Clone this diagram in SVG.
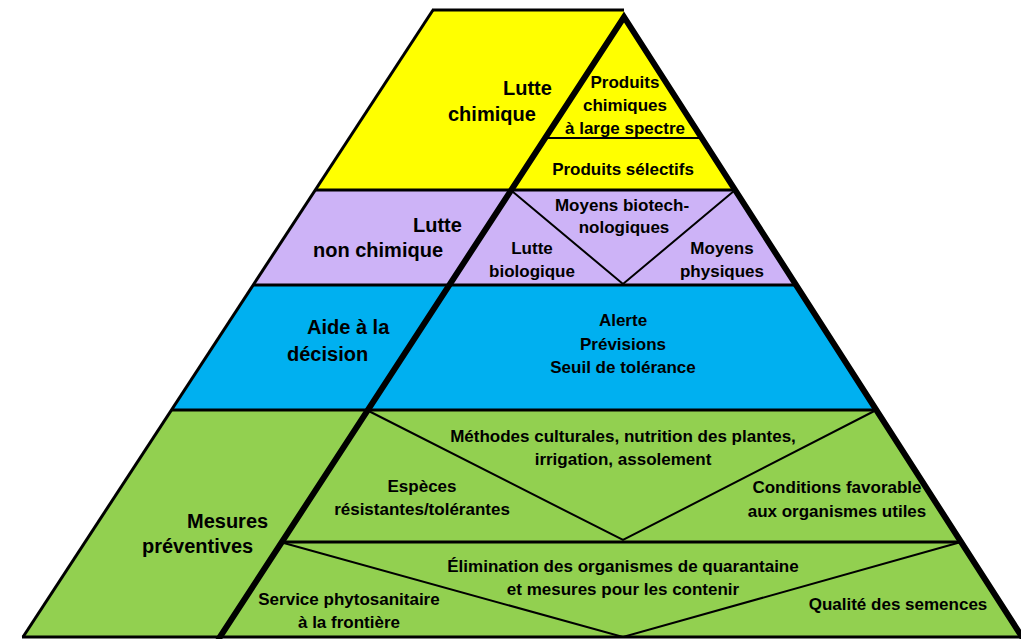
<svg xmlns="http://www.w3.org/2000/svg" width="1021" height="639" viewBox="0 0 1021 639">
<style>
.t{font-family:"Liberation Sans",Arial,sans-serif;font-weight:bold;fill:#000;}
.big{font-size:20px;}
.sm{font-size:17px;text-anchor:middle;}
.ln{stroke:#000;fill:none;stroke-width:2;}
.bd{stroke:#000;fill:none;stroke-width:3;}
.thick{stroke:#000;fill:none;stroke-width:6;stroke-linejoin:miter;stroke-miterlimit:10;}
</style>
<rect width="1021" height="639" fill="#fff"/>
<g id="band-chimique">
<polygon points="433,10 624,10 624,17 735.1,190 315.3,190" fill="#FFFF00"/>
<text class="t big" x="503" y="95">Lutte</text>
<text class="t big" x="448" y="121">chimique</text>
</g>
<g id="band-non-chimique">
<polygon points="315.3,190 735.1,190 796,285 253.2,285" fill="#CDB3F7"/>
<text class="t big" x="413" y="232">Lutte</text>
<text class="t big" x="313" y="257">non chimique</text>
</g>
<g id="band-decision">
<polygon points="253.2,285 796,285 876.3,410 171.4,410" fill="#00B0F0"/>
<text class="t big" x="307" y="334">Aide à la</text>
<text class="t big" x="287" y="361">décision</text>
</g>
<g id="band-preventives">
<polygon points="171.4,410 876.3,410 1022,637 23,637" fill="#92D050"/>
<text class="t big" x="187" y="528">Mesures</text>
<text class="t big" x="142" y="553">préventives</text>
</g>
<g id="connectors">
<line class="bd" x1="433" y1="10" x2="23" y2="637"/>
<line class="bd" x1="432" y1="10" x2="624" y2="10"/>
<line class="bd" x1="22" y1="637" x2="1022" y2="637"/>
<line class="bd" x1="315.3" y1="190" x2="735.1" y2="190"/>
<line class="bd" x1="253.2" y1="285" x2="796" y2="285"/>
<line class="bd" x1="171.4" y1="410" x2="876.3" y2="410"/>
<line class="ln" x1="544.8" y1="138" x2="701.7" y2="138"/>
<polyline class="ln" points="510.7,190 623,284 735.1,190"/>
<polyline class="ln" points="366.7,410 623,540 876.3,410"/>
<line class="bd" x1="280.2" y1="542" x2="961" y2="542"/>
<polyline class="ln" points="280.2,542 623,637 961,542"/>
<polyline class="thick" points="218,640 624,17 1024,640"/>
</g>
<g id="node-large-spectre">
<text class="t sm" x="625" y="88">Produits</text>
<text class="t sm" x="625" y="111">chimiques</text>
<text class="t sm" x="625" y="134">à large spectre</text>
</g>
<g id="node-selectifs">
<text class="t sm" x="623" y="175">Produits sélectifs</text>
</g>
<g id="node-biotech">
<text class="t sm" x="622" y="211">Moyens biotech-</text>
<text class="t sm" x="624" y="233">nologiques</text>
</g>
<g id="node-biologique">
<text class="t sm" x="532" y="254">Lutte</text>
<text class="t sm" x="532" y="277">biologique</text>
</g>
<g id="node-physiques">
<text class="t sm" x="722" y="254">Moyens</text>
<text class="t sm" x="722" y="277">physiques</text>
</g>
<g id="node-alerte">
<text class="t sm" x="623" y="326">Alerte</text>
<text class="t sm" x="623" y="350">Prévisions</text>
<text class="t sm" x="623" y="373">Seuil de tolérance</text>
</g>
<g id="node-methodes">
<text class="t sm" x="623" y="442">Méthodes culturales, nutrition des plantes,</text>
<text class="t sm" x="623" y="465">irrigation, assolement</text>
</g>
<g id="node-especes">
<text class="t sm" x="422" y="492">Espèces</text>
<text class="t sm" x="422" y="515">résistantes/tolérantes</text>
</g>
<g id="node-conditions">
<text class="t sm" x="837" y="493">Conditions favorable</text>
<text class="t sm" x="837" y="517">aux organismes utiles</text>
</g>
<g id="node-elimination">
<text class="t sm" x="623" y="572">Élimination des organismes de quarantaine</text>
<text class="t sm" x="623" y="595">et mesures pour les contenir</text>
</g>
<g id="node-service">
<text class="t sm" x="349" y="605">Service phytosanitaire</text>
<text class="t sm" x="349" y="628">à la frontière</text>
</g>
<g id="node-qualite">
<text class="t sm" x="898" y="610">Qualité des semences</text>
</g>
</svg>
